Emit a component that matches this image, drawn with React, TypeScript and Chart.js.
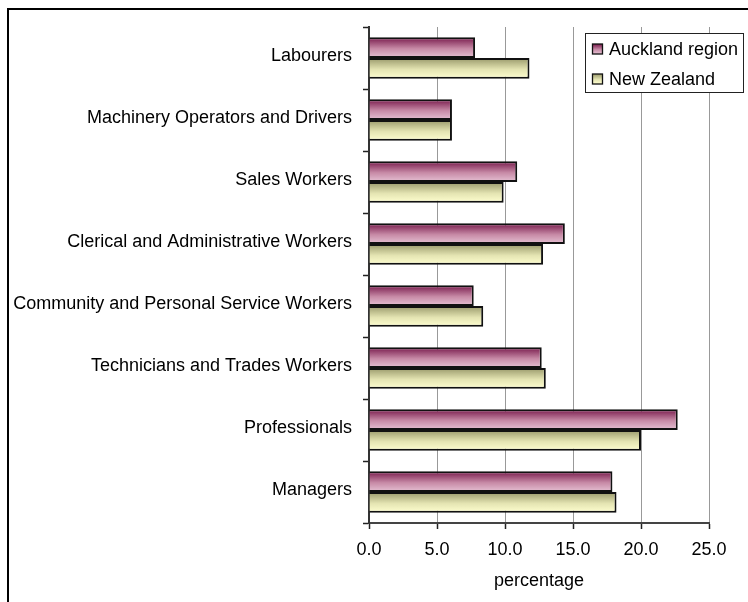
import React, { useEffect, useRef } from "react";
import { Chart, registerables } from "chart.js";

Chart.register(...registerables);

const categories = [
  "Labourers",
  "Machinery Operators and Drivers",
  "Sales Workers",
  "Clerical and Administrative Workers",
  "Community and Personal Service Workers",
  "Technicians and Trades Workers",
  "Professionals",
  "Managers",
];
const seriesNames = ["Auckland region", "New Zealand"];
const aucklandValues = [7.8, 6.1, 10.9, 14.4, 7.7, 12.7, 22.7, 17.9];
const nzValues = [11.8, 6.1, 9.9, 12.8, 8.4, 13.0, 20.0, 18.2];
const xTicks = [0, 5, 10, 15, 20, 25];

const FONT = "'Liberation Sans', Arial, sans-serif";
const gradStops = [
  ["#76184a", "#c78aa6", "#e6c2d4"],
  ["#98986a", "#e4e4b2", "#ffffd0"],
];
const CAT_PCT = 0.67;

function makeGrad(c: CanvasRenderingContext2D, top: number, bottom: number, di: number) {
  const g = c.createLinearGradient(0, top, 0, bottom);
  const s = gradStops[di];
  g.addColorStop(0, s[0]);
  g.addColorStop(0.55, s[1]);
  g.addColorStop(1, s[2]);
  return g;
}

export default function App() {
  const ref = useRef<HTMLCanvasElement>(null);
  useEffect(() => {
    if (!ref.current) return;
    const bg = (ctx: any) => {
      const chart = ctx.chart;
      const y = chart.scales && chart.scales.y;
      const di = ctx.datasetIndex;
      if (!y || ctx.type !== "data") return gradStops[di][1];
      const c0 = y.getPixelForValue(0);
      const c1 = y.getPixelForValue(1);
      const cat = c1 - c0;
      if (!isFinite(cat) || cat === 0) return gradStops[di][1];
      const center = y.getPixelForValue(ctx.dataIndex);
      const barH = (cat * CAT_PCT) / 2;
      const top = center - barH + di * barH;
      return makeGrad(chart.ctx, top, top + barH, di);
    };
    const legendPlugin = {
      id: "boxLegend",
      afterDraw(chart: any) {
        const c: CanvasRenderingContext2D = chart.ctx;
        c.save();
        const bx = 576, by = 23, bw = 158, bh = 59;
        c.fillStyle = "#fff";
        c.fillRect(bx, by, bw, bh);
        c.strokeStyle = "#222";
        c.lineWidth = 1;
        c.strokeRect(bx + 0.5, by + 0.5, bw, bh);
        const baselines = [44.5, 74.5];
        c.font = `18px ${FONT}`;
        c.textBaseline = "alphabetic";
        c.textAlign = "left";
        seriesNames.forEach((name, i) => {
          const b = baselines[i];
          const sx = 583.5, sy = b - 10.5;
          c.fillStyle = makeGrad(c, sy, sy + 10, i);
          c.fillRect(sx, sy, 10, 10);
          c.strokeStyle = "#111";
          c.lineWidth = 1.3;
          c.strokeRect(sx, sy, 10, 10);
          c.fillStyle = "#000";
          c.fillText(name, 600, b);
        });
        c.restore();
      },
    };
    const chart = new Chart(ref.current, {
      type: "bar",
      data: {
        labels: categories,
        datasets: [
          {
            label: seriesNames[0],
            data: aucklandValues,
            backgroundColor: bg,
            borderColor: "#111",
            borderWidth: 2,
            barPercentage: 1,
            categoryPercentage: CAT_PCT,
          },
          {
            label: seriesNames[1],
            data: nzValues,
            backgroundColor: bg,
            borderColor: "#111",
            borderWidth: 2,
            barPercentage: 1,
            categoryPercentage: CAT_PCT,
          },
        ],
      },
      options: {
        indexAxis: "y",
        animation: false,
        responsive: false,
        maintainAspectRatio: false,
        devicePixelRatio: 1,
        layout: { padding: { top: 17, right: 39, left: 0, bottom: 0 } },
        plugins: { legend: { display: false }, tooltip: { enabled: false } },
        scales: {
          x: {
            type: "linear",
            min: 0,
            max: 25,
            afterBuildTicks: (s: any) => {
              s.ticks = xTicks.map((v) => ({ value: v }));
            },
            afterFit: (s: any) => {
              s.height = 79;
            },
            ticks: {
              color: "#000",
              font: { family: FONT, size: 18 },
              padding: 10,
              callback: (v: any) => Number(v).toFixed(1),
            },
            grid: {
              color: (ctx: any) => (ctx.tick && ctx.tick.value === 0 ? "rgba(0,0,0,0)" : "#999"),
              lineWidth: 1,
              tickLength: 6,
              tickColor: "#222",
              tickWidth: 1.5,
            },
            border: { display: true, color: "#444", width: 2 },
            title: {
              display: true,
              text: "percentage",
              color: "#000",
              font: { family: FONT, size: 18 },
              padding: { top: 0, bottom: 10 },
            },
          },
          y: {
            type: "category",
            offset: true,
            afterFit: (s: any) => {
              s.width = 360;
              s.paddingTop = 0;
              s.paddingBottom = 0;
            },
            ticks: {
              color: "#000",
              font: { family: FONT, size: 18 },
              padding: 11,
              labelOffset: -2,
              autoSkip: false,
            },
            grid: {
              offset: true,
              drawOnChartArea: false,
              tickLength: 6,
              tickColor: "#222",
              tickWidth: 1.5,
            },
            border: { display: true, color: "#333", width: 2 },
          },
        },
      },
      plugins: [legendPlugin],
    });
    return () => chart.destroy();
  }, []);
  return (
    <div
      style={{
        position: "absolute",
        left: 7,
        top: 8,
        width: 741,
        height: 594,
        boxSizing: "border-box",
        borderLeft: "2px solid #000",
        borderTop: "2px solid #000",
        background: "#fff",
      }}
    >
      <canvas ref={ref} width={739} height={592} style={{ display: "block", width: 739, height: 592 }} />
    </div>
  );
}
